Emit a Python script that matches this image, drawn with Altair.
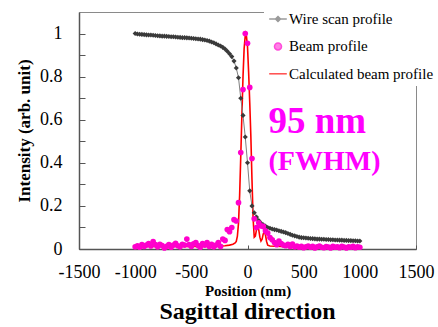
import altair as alt
import pandas as pd

FONT = "Liberation Serif"
SERIES = ["Wire scan profile", "Beam profile", "Calculated beam profile"]

# scan positions (nm), one sample every 20 nm
scan_x = list(range(-1000, 1001, 20))

wire_y = [
    1.000, 0.998, 0.997, 0.996, 0.995, 0.994, 0.993, 0.993, 0.992, 0.991,
    0.990, 0.989, 0.988, 0.988, 0.987, 0.986, 0.985, 0.985, 0.984, 0.983,
    0.982, 0.981, 0.981, 0.980, 0.979, 0.978, 0.977, 0.976, 0.975, 0.974,
    0.972, 0.970, 0.968, 0.965, 0.961, 0.957, 0.952, 0.947, 0.942, 0.936,
    0.928, 0.918, 0.906, 0.893, 0.872, 0.840, 0.795, 0.700, 0.620, 0.520,
    0.400, 0.270, 0.200, 0.168, 0.148, 0.132, 0.120, 0.112, 0.106, 0.100,
    0.096, 0.093, 0.090, 0.088, 0.085, 0.082, 0.079, 0.076, 0.072, 0.068,
    0.064, 0.061, 0.058, 0.055, 0.053, 0.052, 0.051, 0.050, 0.049, 0.048,
    0.047, 0.046, 0.046, 0.045, 0.045, 0.044, 0.044, 0.043, 0.043, 0.042,
    0.042, 0.041, 0.041, 0.040, 0.040, 0.039, 0.039, 0.038, 0.038, 0.037,
    0.037,
]

beam_y = [
    0.010, 0.015, 0.008, 0.020, 0.012, 0.018, 0.025, 0.014, 0.035, 0.020,
    0.010, 0.022, 0.016, 0.005, 0.012, 0.020, 0.008, 0.018, 0.026, 0.015,
    0.010, 0.022, 0.018, 0.046, 0.020, 0.012, 0.024, 0.030, 0.016, 0.008,
    0.025, 0.018, 0.030, 0.012, 0.022, 0.010, 0.018, 0.030, 0.012, 0.046,
    0.040, 0.090, 0.080, 0.100, 0.136, 0.130, 0.215, 0.448, 0.740, 1.000,
    0.955, 0.750, 0.420, 0.140, 0.100, 0.122, 0.107, 0.105, 0.084, 0.074,
    0.053, 0.043, 0.030, 0.020, 0.037, 0.025, 0.018, 0.015, 0.022, 0.012,
    0.023, 0.010, 0.014, 0.008, 0.012, 0.006, 0.010, 0.014, 0.008, 0.012,
    0.005, 0.010, 0.013, 0.008, 0.006, 0.011, 0.009, 0.005, 0.012, 0.008,
    0.010, 0.006, 0.012, 0.009, 0.005, 0.010, 0.008, 0.012, 0.006, 0.010,
    0.008,
]

calc_x = [-1000, -800, -600, -400, -250, -200, -160, -130, -110, -100,
          -90, -80, -70, -60, -50, -40, -30, -20, -15, -10,
          0, 10, 20, 30, 40, 50, 60, 70, 80, 90,
          100, 110, 120, 130, 140, 150, 160, 170, 180, 200,
          300, 500, 1000]
calc_y = [0.012, 0.012, 0.012, 0.012, 0.013, 0.015, 0.018, 0.022, 0.028, 0.035,
          0.060, 0.120, 0.250, 0.430, 0.620, 0.800, 0.930, 0.990, 1.000, 0.990,
          0.940, 0.820, 0.680, 0.520, 0.320, 0.140, 0.055, 0.060, 0.090, 0.107,
          0.090, 0.055, 0.037, 0.045, 0.070, 0.080, 0.065, 0.035, 0.018, 0.014,
          0.012, 0.012, 0.012]

x_ticks = [-1500, -1000, -500, 0, 500, 1000, 1500]
y_ticks = [0, 0.2, 0.4, 0.6, 0.8, 1]
y_minor = [0, 0.1, 0.2, 0.3, 0.4, 0.5, 0.6, 0.7, 0.8, 0.9, 1.0]

note_text = ["95 nm", "(FWHM)"]
note_x = [187, 187]
note_y = [0.538, 0.368]
note_size = [37, 28]

scan = pd.DataFrame({"x": scan_x, "wire": wire_y, "beam": beam_y})
calc = pd.DataFrame({"x": calc_x, "y": calc_y})
notes = pd.DataFrame({"x": note_x, "y": note_y, "text": note_text, "size": note_size})
legend_df = pd.DataFrame({"series": SERIES})

xs = alt.Scale(domain=[-1500, 1500], nice=False, zero=False)
ys = alt.Scale(domain=[0, 1.1], nice=False, zero=False)

main_x = alt.Axis(values=x_ticks, ticks=False, tickSize=0, labelPadding=14,
                  labelFont=FONT, labelFontSize=18, labelColor="black",
                  labelExpr="datum.value < 0 ? '-' + abs(datum.value) : '' + datum.value",
                  labelFlush=False, labelOverlap=False, grid=False,
                  domainColor="#555555", domainWidth=1.5,
                  title="Position (nm)", titleFont=FONT, titleFontSize=15,
                  titleFontWeight="bold", titleColor="black",
                  titleY=46, titleBaseline="alphabetic")
main_y = alt.Axis(values=y_ticks, ticks=False, tickSize=0, labelPadding=17,
                  labelFont=FONT, labelFontSize=18, labelColor="black",
                  labelExpr="'' + datum.value",
                  labelFlush=False, labelOverlap=False, grid=False,
                  domainColor="#555555", domainWidth=1.5,
                  title="Intensity (arb. unit)", titleFont=FONT, titleFontSize=17,
                  titleFontWeight="bold", titleColor="black",
                  titleX=-45.5, titleY=118.5, titleAngle=270,
                  titleBaseline="bottom", titleAlign="center")
minor_x = alt.Axis(orient="bottom", offset=-4, values=x_ticks, tickSize=4,
                   tickColor="#555555", labels=False, domain=False, grid=False, title=None)
minor_y = alt.Axis(orient="left", offset=-6, values=y_minor, tickSize=6,
                   tickColor="#555555", labels=False, domain=False, grid=False, title=None)

calc_line = alt.Chart(calc).mark_line(color="#FF0000", strokeWidth=1.6).encode(
    x=alt.X("x:Q", scale=xs, axis=main_x),
    y=alt.Y("y:Q", scale=ys, axis=main_y),
)

wire_line = alt.Chart(scan).mark_line(color="#808080", strokeWidth=1).encode(
    x=alt.X("x:Q", scale=xs, axis=minor_x),
    y=alt.Y("wire:Q", scale=ys, axis=minor_y),
)

wire_pts = alt.Chart(scan).mark_point(shape="diamond", filled=True, size=26,
                                      color="#3a3a3a", opacity=1).encode(
    x=alt.X("x:Q", scale=xs, axis=None),
    y=alt.Y("wire:Q", scale=ys, axis=None),
)

beam_pts = alt.Chart(scan).mark_circle(size=32, color="#FF00CC", opacity=1).encode(
    x=alt.X("x:Q", scale=xs, axis=None),
    y=alt.Y("beam:Q", scale=ys, axis=None),
)

note_marks = alt.Chart(notes).mark_text(font=FONT, fontWeight="bold", color="#FF00FF",
                                        align="left", baseline="alphabetic").encode(
    x=alt.X("x:Q", scale=xs, axis=None),
    y=alt.Y("y:Q", scale=ys, axis=None),
    text="text:N",
    size=alt.Size("size:Q", scale=None, legend=None),
)

leg = alt.Legend(orient="none", legendX=185, legendY=-7, title=None, padding=4,
                 fillColor="white", symbolSize=310, symbolStrokeWidth=1.5,
                 labelFont=FONT, labelFontSize=15, labelColor="black",
                 labelOffset=1, rowPadding=9.4)
fill_scale = alt.Scale(domain=SERIES, range=["#333333", "#FF00CC", "#FF0000"])
stroke_scale = alt.Scale(domain=SERIES, range=["#707070", "#FF00CC", "#FF0000"])
shape_scale = alt.Scale(domain=SERIES, range=[
    "M-1,0H1M0,-0.28L0.28,0L0,0.28L-0.28,0Z",
    "M-0.4,0A0.4,0.4 0 1,0 0.4,0A0.4,0.4 0 1,0 -0.4,0Z",
    "M-1,0H1",
])
legend_layer = alt.Chart(legend_df).mark_point(filled=True).encode(
    fill=alt.Fill("series:N", scale=fill_scale, legend=leg),
    stroke=alt.Stroke("series:N", scale=stroke_scale, legend=leg),
    shape=alt.Shape("series:N", scale=shape_scale, legend=leg),
).transform_filter("false")

chart = alt.layer(
    calc_line, wire_line, wire_pts, beam_pts, note_marks, legend_layer
).resolve_axis(
    x="independent", y="independent"
).properties(
    width=337, height=237,
    autosize=alt.AutoSizeParams(type="none"),
    padding={"left": 79, "top": 12, "right": 22, "bottom": 78},
    title=alt.TitleParams("Sagittal direction", orient="bottom", anchor="middle",
                          frame="group", font=FONT, fontSize=24, fontWeight="bold",
                          color="black", baseline="alphabetic", offset=21),
).configure(
    background="white", font=FONT
).configure_axis(
    labelFont=FONT, titleFont=FONT
).configure_legend(
    labelFont=FONT, titleFont=FONT
).configure_view(
    stroke="#8a8a8a", strokeWidth=1
)

chart.save("out.html", embed_options={"renderer": "svg", "actions": False})
